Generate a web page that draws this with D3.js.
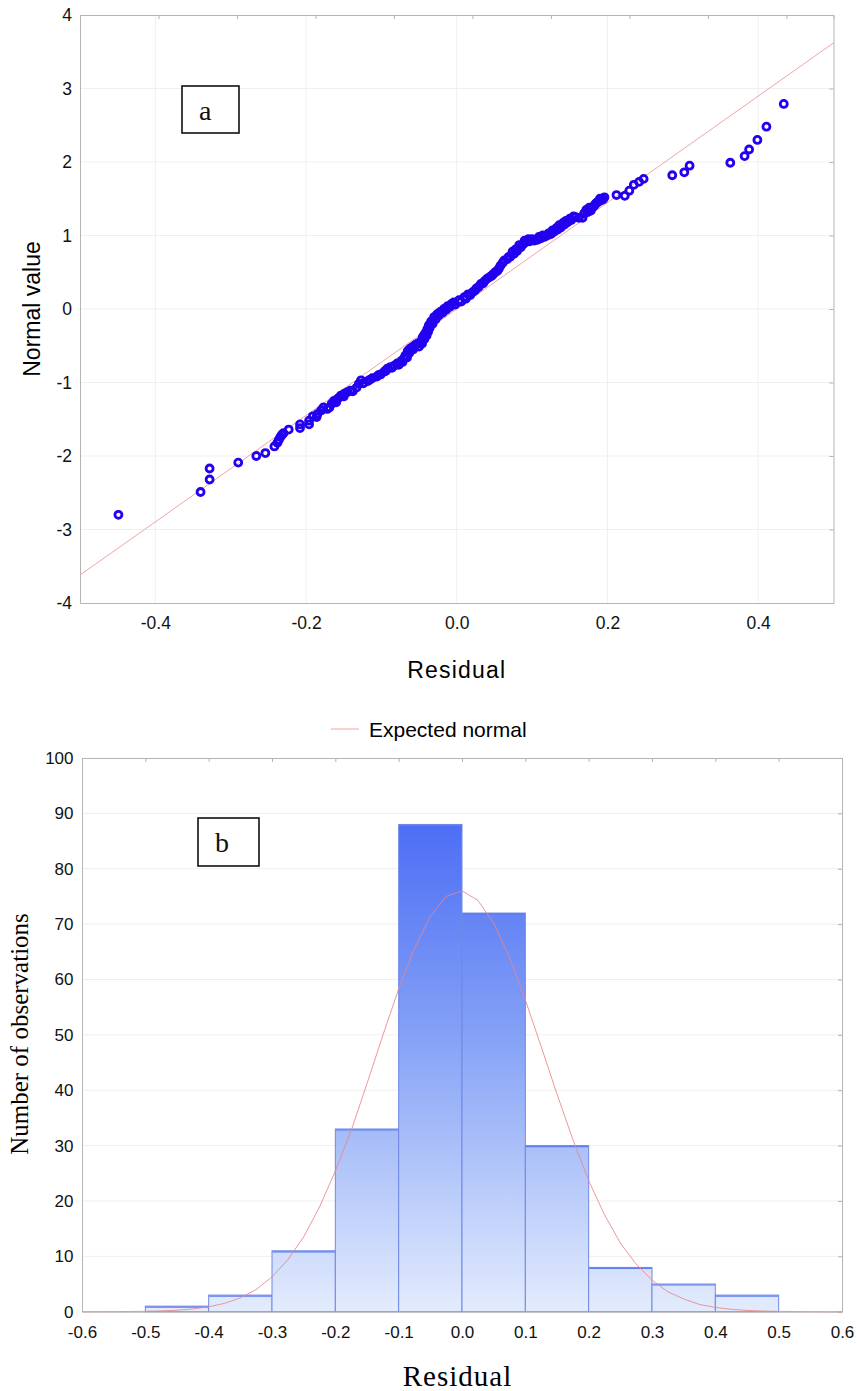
<!DOCTYPE html>
<html>
<head>
<meta charset="utf-8">
<script src="https://cdn.jsdelivr.net/npm/d3@7/dist/d3.min.js"></script>
<style>
	body { margin: 0; background: #fff; }
	svg { display: block; }
</style>
</head>
<body>
<svg id="chart" width="857" height="1391"></svg>
<script>
// (a) normal probability plot of residuals
const residuals = [
	-0.449, -0.340, -0.328, -0.328, -0.290, -0.266, -0.254, -0.242, -0.238, -0.236,
	-0.234, -0.232, -0.230, -0.223, -0.208, -0.208, -0.196, -0.196, -0.191, -0.185,
	-0.180, -0.177, -0.169, -0.166, -0.163, -0.158, -0.154, -0.149, -0.145, -0.141,
	-0.133, -0.130, -0.127, -0.118, -0.112, -0.106, -0.101, -0.096, -0.092, -0.088,
	-0.083, -0.079, -0.074, -0.070, -0.068, -0.065, -0.062, -0.059, -0.055, -0.052,
	-0.046, -0.045, -0.045, -0.043, -0.041, -0.039, -0.037, -0.034, -0.030, -0.026,
	-0.022, -0.017, -0.012, -0.007, -0.004, 0.003, 0.010, 0.015, 0.021, 0.026,
	0.032, 0.037, 0.043, 0.048, 0.054, 0.058, 0.061, 0.067, 0.071, 0.076,
	0.080, 0.085, 0.088, 0.092, 0.097, 0.103, 0.107, 0.111, 0.116, 0.120,
	0.125, 0.129, 0.134, 0.138, 0.143, 0.147, 0.152, 0.158, 0.162, 0.167,
	0.169, 0.174, 0.178, 0.181, 0.184, 0.188, 0.191, 0.196, 0.212, 0.223,
	0.229, 0.235, 0.242, 0.248, 0.286, 0.302, 0.309, 0.363, 0.382, 0.388,
	0.399, 0.411, 0.434,
	// overlapping points inside the dense band
	-0.186, -0.172, -0.160, -0.150, -0.138, -0.124, -0.115, -0.104, -0.094, -0.086,
	-0.077, -0.072, -0.066, -0.063, -0.058, -0.050, -0.048, -0.043, -0.040, -0.038,
	-0.036, -0.032, -0.028, -0.024, -0.019, -0.014, -0.009, -0.002, 0.006, 0.012,
	0.018, 0.024, 0.029, 0.035, 0.040, 0.046, 0.051, 0.056, 0.063, 0.069,
	0.074, 0.078, 0.083, 0.090, 0.095, 0.100, 0.109, 0.114, 0.122, 0.127,
	0.132, 0.136, 0.141, 0.145, 0.150, 0.155, 0.172, 0.176, 0.183, 0.186,
	0.190, 0.194
];
const normalValues = [
	-2.80, -2.49, -2.32, -2.17, -2.09, -2.00, -1.96, -1.87, -1.82, -1.78,
	-1.74, -1.71, -1.69, -1.64, -1.62, -1.57, -1.57, -1.52, -1.46, -1.43,
	-1.38, -1.34, -1.34, -1.29, -1.25, -1.22, -1.18, -1.15, -1.13, -1.11,
	-1.07, -1.02, -0.97, -0.98, -0.94, -0.92, -0.89, -0.85, -0.81, -0.79,
	-0.77, -0.74, -0.71, -0.67, -0.63, -0.57, -0.54, -0.52, -0.49, -0.47,
	-0.47, -0.42, -0.38, -0.35, -0.32, -0.27, -0.22, -0.17, -0.11, -0.07,
	-0.04, 0.00, 0.04, 0.07, 0.09, 0.12, 0.16, 0.20, 0.23, 0.28,
	0.34, 0.38, 0.43, 0.47, 0.52, 0.59, 0.63, 0.68, 0.71, 0.75,
	0.79, 0.84, 0.88, 0.91, 0.92, 0.93, 0.94, 0.96, 0.98, 1.00,
	1.02, 1.05, 1.08, 1.11, 1.15, 1.18, 1.21, 1.25, 1.24, 1.24,
	1.30, 1.32, 1.34, 1.39, 1.43, 1.46, 1.48, 1.52, 1.55, 1.54,
	1.61, 1.69, 1.73, 1.77, 1.82, 1.86, 1.95, 1.99, 2.08, 2.17,
	2.30, 2.48, 2.79,
	-1.47, -1.36, -1.27, -1.19, -1.12, -1.01, -0.96, -0.90, -0.84, -0.80,
	-0.76, -0.72, -0.66, -0.60, -0.55, -0.51, -0.44, -0.41, -0.36, -0.31,
	-0.26, -0.20, -0.14, -0.09, -0.05, -0.01, 0.03, 0.06, 0.10, 0.14,
	0.19, 0.25, 0.30, 0.35, 0.41, 0.45, 0.50, 0.55, 0.66, 0.71,
	0.78, 0.81, 0.87, 0.93, 0.95, 0.95, 0.98, 1.00, 1.03, 1.07,
	1.10, 1.14, 1.17, 1.20, 1.23, 1.26, 1.35, 1.38, 1.41, 1.45,
	1.50, 1.49
];
const refLineResidual = [-0.5, 0.5];
const refLineNormal = [-3.62, 3.62];
const qqXTicks = [-0.4, -0.2, 0.0, 0.2, 0.4];
const qqYTicks = [-4, -3, -2, -1, 0, 1, 2, 3, 4];

// (b) histogram of residuals
const binStart = [-0.5, -0.4, -0.3, -0.2, -0.1, 0.0, 0.1, 0.2, 0.3, 0.4];
const binEnd = [-0.4, -0.3, -0.2, -0.1, 0.0, 0.1, 0.2, 0.3, 0.4, 0.5];
const binCounts = [1, 3, 11, 33, 88, 72, 30, 8, 5, 3];
const curveX = [
	-0.6, -0.575, -0.55, -0.525, -0.5, -0.475, -0.45, -0.425, -0.4, -0.375,
	-0.35, -0.325, -0.3, -0.275, -0.25, -0.225, -0.2, -0.175, -0.15, -0.125,
	-0.1, -0.075, -0.05, -0.025, 0.0, 0.025, 0.05, 0.075, 0.1, 0.125,
	0.15, 0.175, 0.2, 0.225, 0.25, 0.275, 0.3, 0.325, 0.35, 0.375,
	0.4, 0.425, 0.45, 0.475, 0.5, 0.525, 0.55, 0.575, 0.6
];
const curveY = [
	0.0, 0.01, 0.02, 0.03, 0.07, 0.14, 0.27, 0.5, 0.88, 1.5,
	2.5, 4.0, 6.3, 9.4, 13.5, 18.9, 25.4, 32.7, 41.2, 49.9,
	58.3, 65.6, 71.4, 75.0, 76.0, 74.3, 70.2, 64.0, 56.3, 47.9,
	39.3, 31.1, 23.7, 17.5, 12.4, 8.6, 5.7, 3.6, 2.3, 1.3,
	0.77, 0.43, 0.23, 0.12, 0.06, 0.03, 0.01, 0.0, 0.0
];
const histXTicks = [-0.6, -0.5, -0.4, -0.3, -0.2, -0.1, 0.0, 0.1, 0.2, 0.3, 0.4, 0.5, 0.6];
const histYTicks = [0, 10, 20, 30, 40, 50, 60, 70, 80, 90, 100];

const SANS = "'Liberation Sans', Arial, sans-serif";
const SERIF = "'Liberation Serif', 'Times New Roman', serif";
const FRAME = "#b4b4b4";
const GRID = "#efefef";

let svg = d3.select("#chart");
svg.append("rect").attr("width", 857).attr("height", 1391).attr("fill", "#fff");

let fmt1 = d => d.toFixed(1);
let fmtInt = d => String(d);


function styleAxis(g, size) {
	g.select(".domain").attr("stroke", FRAME);
	g.selectAll(".tick line").attr("stroke", FRAME);
	g.selectAll(".tick text")
		.attr("fill", "#111")
		.style("font-family", SANS)
		.style("font-size", size + "px");
}


// ---------- panel a ----------
function drawQQ() {
	let left = 80, right = 833.5, top = 15, bottom = 603;
	let x = d3.scaleLinear().domain([-0.5, 0.5]).range([left, right]);
	let y = d3.scaleLinear().domain([-4, 4]).range([bottom, top]);
	let g = svg.append("g");

	g.append("g").selectAll("line").data(qqYTicks.slice(1, -1)).join("line")
		.attr("x1", left).attr("x2", right)
		.attr("y1", d => y(d)).attr("y2", d => y(d))
		.attr("stroke", GRID);
	g.append("g").selectAll("line").data(qqXTicks).join("line")
		.attr("y1", top).attr("y2", bottom)
		.attr("x1", d => x(d)).attr("x2", d => x(d))
		.attr("stroke", GRID);

	// top axis has its own odd spacing in the original
	let xTop = d3.scaleLinear().domain([0, 9.6]).range([left, right]);
	g.append("g").attr("transform", `translate(0,${top})`)
		.call(d3.axisTop(xTop).tickValues(d3.range(1, 10)).tickSize(-4).tickFormat(""))
		.call(a => styleAxis(a, 17));
	g.append("g").attr("transform", `translate(${right},0)`)
		.call(d3.axisRight(y).tickValues(qqYTicks).tickSize(-4).tickFormat(""))
		.call(a => styleAxis(a, 17));
	g.append("g").attr("transform", `translate(0,${bottom})`)
		.call(d3.axisBottom(x).tickValues(qqXTicks).tickSize(0).tickPadding(14).tickFormat(fmt1))
		.call(a => styleAxis(a, 17.5));
	g.append("g").attr("transform", `translate(${left},0)`)
		.call(d3.axisLeft(y).tickValues(qqYTicks).tickSize(0).tickPadding(8).tickFormat(fmtInt))
		.call(a => styleAxis(a, 17.5));

	g.append("line")
		.attr("x1", x(refLineResidual[0])).attr("y1", y(refLineNormal[0]))
		.attr("x2", x(refLineResidual[1])).attr("y2", y(refLineNormal[1]))
		.attr("stroke", "#f0a4a4").attr("stroke-width", 1);

	g.append("g").selectAll("circle").data(residuals).join("circle")
		.attr("cx", d => x(d))
		.attr("cy", (d, i) => y(normalValues[i]))
		.attr("r", 3.5)
		.attr("fill", "none")
		.attr("stroke", "#2200f0")
		.attr("stroke-width", 2.8);

	g.append("rect").attr("x", 182).attr("y", 86).attr("width", 57).attr("height", 47)
		.attr("fill", "#fff").attr("stroke", "#111").attr("stroke-width", 1.6);
	g.append("text").attr("x", 199).attr("y", 119.5).text("a")
		.style("font-family", SERIF).style("font-size", "28px").attr("fill", "#111");

	g.append("text")
		.attr("x", (left + right) / 2).attr("y", 678)
		.attr("text-anchor", "middle")
		.style("font-family", SANS).style("font-size", "23px").style("letter-spacing", "1.2px")
		.text("Residual");
	g.append("text")
		.attr("transform", "translate(40,309) rotate(-90)")
		.attr("text-anchor", "middle")
		.style("font-family", SANS).style("font-size", "23px")
		.text("Normal value");
}


// ---------- panel b ----------
function drawHistogram() {
	let left = 82, right = 842, top = 758, bottom = 1311.7;
	let x = d3.scaleLinear().domain([-0.6, 0.6]).range([left, right]);
	let y = d3.scaleLinear().domain([0, 100]).range([bottom, top]);
	let g = svg.append("g");

	let grad = svg.append("defs").append("linearGradient")
		.attr("id", "barFill")
		.attr("gradientUnits", "userSpaceOnUse")
		.attr("x1", 0).attr("x2", 0)
		.attr("y1", y(90)).attr("y2", y(0));
	grad.append("stop").attr("offset", "0%").attr("stop-color", "#4a6bf5");
	grad.append("stop").attr("offset", "45%").attr("stop-color", "#85a2f6");
	grad.append("stop").attr("offset", "100%").attr("stop-color", "#e3ecfd");

	g.append("g").selectAll("line").data(histYTicks.slice(1, -1)).join("line")
		.attr("x1", left).attr("x2", right)
		.attr("y1", d => y(d)).attr("y2", d => y(d))
		.attr("stroke", GRID);

	g.append("g").attr("transform", `translate(0,${top})`)
		.call(d3.axisTop(x).tickValues(histXTicks).tickSize(-4).tickFormat(""))
		.call(a => styleAxis(a, 17));
	g.append("g").attr("transform", `translate(${right},0)`)
		.call(d3.axisRight(y).tickValues(histYTicks).tickSize(-4).tickFormat(""))
		.call(a => styleAxis(a, 17));

	g.append("g").selectAll("rect").data(binCounts).join("rect")
		.attr("x", (d, i) => x(binStart[i]))
		.attr("width", (d, i) => x(binEnd[i]) - x(binStart[i]))
		.attr("y", d => y(d))
		.attr("height", d => y(0) - y(d))
		.attr("fill", "url(#barFill)")
		.attr("stroke", "#7088e6")
		.attr("stroke-width", 1);
	g.append("g").selectAll("line").data(binCounts).join("line")
		.attr("x1", (d, i) => x(binStart[i]) + 0.5)
		.attr("x2", (d, i) => x(binEnd[i]) - 0.5)
		.attr("y1", d => y(d) + 1).attr("y2", d => y(d) + 1)
		.attr("stroke", "#5d7cee").attr("stroke-width", 1.2);

	g.append("g").attr("transform", `translate(0,${bottom})`)
		.call(d3.axisBottom(x).tickValues(histXTicks).tickSize(0).tickPadding(14).tickFormat(fmt1))
		.call(a => styleAxis(a, 17));
	g.append("g").attr("transform", `translate(${left},0)`)
		.call(d3.axisLeft(y).tickValues(histYTicks).tickSize(0).tickPadding(8.5).tickFormat(fmtInt))
		.call(a => styleAxis(a, 17));

	let line = d3.line()
		.x(d => x(d))
		.y((d, i) => y(curveY[i]));
	g.append("path")
		.attr("d", line(curveX))
		.attr("fill", "none")
		.attr("stroke", "#e8868a")
		.attr("stroke-opacity", 0.85)
		.attr("stroke-width", 1);

	// legend
	g.append("line").attr("x1", 331).attr("x2", 359).attr("y1", 729).attr("y2", 729)
		.attr("stroke", "#f0a4a4").attr("stroke-width", 1);
	g.append("text").attr("x", 369).attr("y", 736.5)
		.style("font-family", SANS).style("font-size", "21px")
		.text("Expected normal");

	g.append("rect").attr("x", 198).attr("y", 818).attr("width", 61).attr("height", 48)
		.attr("fill", "#fff").attr("stroke", "#111").attr("stroke-width", 1.6);
	g.append("text").attr("x", 215).attr("y", 852).text("b")
		.style("font-family", SERIF).style("font-size", "28px").attr("fill", "#111");

	g.append("text")
		.attr("x", 457.5).attr("y", 1386)
		.attr("text-anchor", "middle")
		.style("font-family", SERIF).style("font-size", "29px").style("letter-spacing", "1px")
		.text("Residual");
	g.append("text")
		.attr("transform", "translate(28,1034) rotate(-90)")
		.attr("text-anchor", "middle")
		.style("font-family", SERIF).style("font-size", "25px")
		.text("Number of observations");
}

drawQQ();
drawHistogram();
</script>
</body>
</html>
